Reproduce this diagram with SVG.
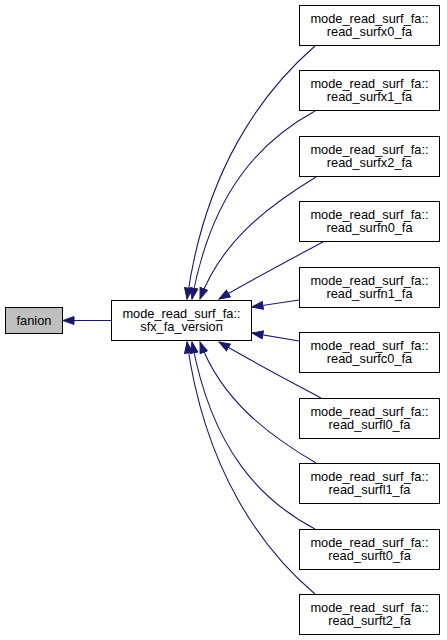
<svg xmlns="http://www.w3.org/2000/svg" width="447" height="640" viewBox="0 0 447 640">
<style>
.box{fill:#ffffff;stroke:#000000;stroke-width:1}
.cur{fill:#bfbfbf;stroke:#000000;stroke-width:1}
text{font-family:"Liberation Sans",Arial,sans-serif;font-size:12.8px;fill:#000000;text-anchor:middle}
.edge{fill:none;stroke:#191970;stroke-width:1.1}
</style>
<defs>
<marker id="ah" markerUnits="userSpaceOnUse" markerWidth="13" markerHeight="11" refX="11.5" refY="4.5" orient="auto">
<path d="M0.5,0.5 L11.5,4.5 L0.5,8.5 z" fill="#191970" stroke="#191970" stroke-width="1"/>
</marker>
</defs>
<rect width="447" height="640" fill="#ffffff"/>
<g id="edges">
<path class="edge" marker-end="url(#ah)" d="M111,320.5 L63,320.5"/>
<path class="edge" marker-end="url(#ah)" d="M315,46 C262,92 205,170 187,299"/>
<path class="edge" marker-end="url(#ah)" d="M315,111 C262,140 212,190 192,299"/>
<path class="edge" marker-end="url(#ah)" d="M316,177 C270,205 222,240 200,299"/>
<path class="edge" marker-end="url(#ah)" d="M323,242 C295,257 255,278 219,299"/>
<path class="edge" marker-end="url(#ah)" d="M299,300 L252,307"/>
<path class="edge" marker-end="url(#ah)" d="M299,341 L252,333"/>
<path class="edge" marker-end="url(#ah)" d="M321,398 C295,384 255,363 219,342"/>
<path class="edge" marker-end="url(#ah)" d="M316,463 C270,436 222,401 200,342"/>
<path class="edge" marker-end="url(#ah)" d="M315,529 C262,501 212,451 192,342"/>
<path class="edge" marker-end="url(#ah)" d="M315,594 C262,549 205,471 187,342"/>
</g>
<g id="fanion">
<rect class="cur" x="5.5" y="307.5" width="57" height="26"/>
<text x="34" y="325">fanion</text>
</g>
<g id="sfx_fa_version">
<rect class="box" x="111.5" y="300.5" width="140" height="40"/>
<text x="181.5" y="317.5">mode_read_surf_fa::</text>
<text x="181.5" y="331">sfx_fa_version</text>
</g>
<g id="read_surfx0_fa">
<rect class="box" x="299.5" y="5.5" width="140" height="40"/>
<text x="369.5" y="22.5">mode_read_surf_fa::</text>
<text x="369.5" y="36">read_surfx0_fa</text>
</g>
<g id="read_surfx1_fa">
<rect class="box" x="299.5" y="70.5" width="140" height="40"/>
<text x="369.5" y="87.5">mode_read_surf_fa::</text>
<text x="369.5" y="101">read_surfx1_fa</text>
</g>
<g id="read_surfx2_fa">
<rect class="box" x="299.5" y="136.5" width="140" height="40"/>
<text x="369.5" y="153.5">mode_read_surf_fa::</text>
<text x="369.5" y="167">read_surfx2_fa</text>
</g>
<g id="read_surfn0_fa">
<rect class="box" x="299.5" y="201.5" width="140" height="40"/>
<text x="369.5" y="218.5">mode_read_surf_fa::</text>
<text x="369.5" y="232">read_surfn0_fa</text>
</g>
<g id="read_surfn1_fa">
<rect class="box" x="299.5" y="267.5" width="140" height="40"/>
<text x="369.5" y="284.5">mode_read_surf_fa::</text>
<text x="369.5" y="298">read_surfn1_fa</text>
</g>
<g id="read_surfc0_fa">
<rect class="box" x="299.5" y="332.5" width="140" height="40"/>
<text x="369.5" y="349.5">mode_read_surf_fa::</text>
<text x="369.5" y="363">read_surfc0_fa</text>
</g>
<g id="read_surfl0_fa">
<rect class="box" x="299.5" y="398.5" width="140" height="40"/>
<text x="369.5" y="415.5">mode_read_surf_fa::</text>
<text x="369.5" y="429">read_surfl0_fa</text>
</g>
<g id="read_surfl1_fa">
<rect class="box" x="299.5" y="463.5" width="140" height="40"/>
<text x="369.5" y="480.5">mode_read_surf_fa::</text>
<text x="369.5" y="494">read_surfl1_fa</text>
</g>
<g id="read_surft0_fa">
<rect class="box" x="299.5" y="529.5" width="140" height="40"/>
<text x="369.5" y="546.5">mode_read_surf_fa::</text>
<text x="369.5" y="560">read_surft0_fa</text>
</g>
<g id="read_surft2_fa">
<rect class="box" x="299.5" y="594.5" width="140" height="40"/>
<text x="369.5" y="611.5">mode_read_surf_fa::</text>
<text x="369.5" y="625">read_surft2_fa</text>
</g>
</svg>
